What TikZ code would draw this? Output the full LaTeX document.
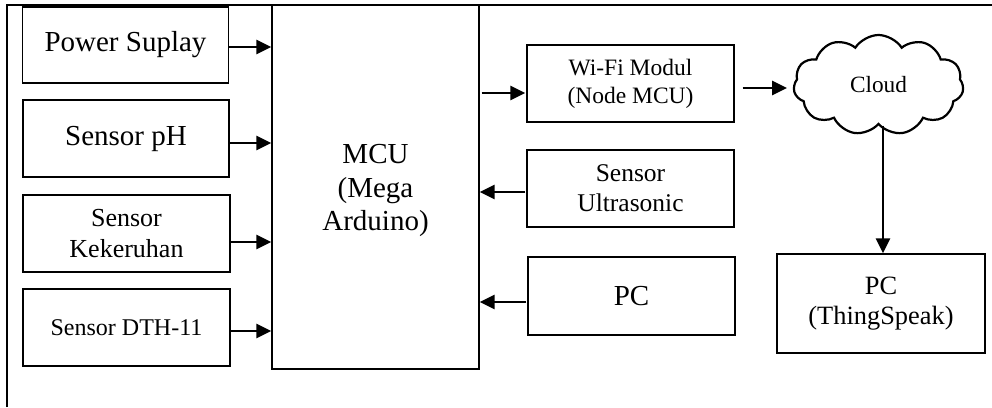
\documentclass[tikz,border=0pt]{standalone}
\usepackage{fontspec}
\setmainfont{Liberation Serif}
\usetikzlibrary{arrows.meta,shapes.symbols}
\tikzset{
  blk/.style={draw, line width=1.3pt, rectangle, inner sep=0pt, align=center},
  arr/.style={line width=2.6pt, -{Triangle[length=15pt,width=14pt]}},
  frm/.style={line width=2.6pt},
}
\newcommand{\fs}[1]{\fontsize{#1}{1.15\dimexpr #1pt\relax}\selectfont}
\begin{document}
\begin{tikzpicture}[x=1pt,y=-1pt]
\useasboundingbox (0,0) rectangle (992,407);
% frame
\coordinate (ftl) at (7,5);
\coordinate (ftr) at (992,5);
\coordinate (fbl) at (7,407);
\draw[frm] (fbl) -- (ftl) -- (ftr);
% left boxes
\node[blk, minimum width=206pt, minimum height=76pt, font=\fs{29}] (ps) at (125.5,45) {Power Suplay};
\node[blk, minimum width=206pt, minimum height=77pt, font=\fs{29}] (ph) at (126,138.5) {Sensor pH};
\node[blk, minimum width=207pt, minimum height=77pt, font=\fontsize{26}{31}\selectfont] (kek) at (126.5,233.5) {Sensor\\Kekeruhan};
\node[blk, minimum width=207pt, minimum height=77pt, font=\fs{24}] (dth) at (126.5,327.5) {Sensor DTH-11};
% MCU
\node[blk, minimum width=207pt, minimum height=364pt] (mcu) at (375.5,187) {};
\node[align=center, inner sep=0pt, font=\fontsize{29}{33.5}\selectfont] (mcut) at (375.5,190.5) {MCU\\(Mega\\Arduino)};
% right boxes
\node[blk, minimum width=207pt, minimum height=77pt, font=\fontsize{23.5}{28}\selectfont] (wifi) at (630.5,83.5) {Wi-Fi Modul\\(Node MCU)};
\node[blk, minimum width=207pt, minimum height=77pt, font=\fontsize{25.5}{30}\selectfont] (ultra) at (630.5,188.5) {Sensor\\Ultrasonic};
\node[blk, minimum width=207pt, minimum height=78pt, font=\fs{29}] (pc) at (631.5,296) {PC};
\node[draw, line width=2.2pt, cloud, cloud puffs=11, cloud puff arc=115, aspect=1.66,
      minimum width=170pt, minimum height=100pt, inner sep=0pt, font=\fs{23.3}] (cloud) at (878.5,85) {Cloud};
\node[blk, minimum width=208pt, minimum height=99pt, font=\fontsize{26.4}{30}\selectfont] (ts) at (881,303.5) {PC\\(ThingSpeak)};
% arrows into MCU
\draw[arr] ([yshift=-2pt]ps.east) -- ([yshift=-2pt]ps.east -| mcu.west);
\draw[arr] ([yshift=-4.5pt]ph.east) -- ([yshift=-4.5pt]ph.east -| mcu.west);
\draw[arr] ([yshift=-8.5pt]kek.east) -- ([yshift=-8.5pt]kek.east -| mcu.west);
\draw[arr] ([yshift=-3.5pt]dth.east) -- ([yshift=-3.5pt]dth.east -| mcu.west);
% MCU to wifi
\draw[arr] ([yshift=-9.5pt,xshift=2pt]wifi.west -| mcu.east) -- ([yshift=-9.5pt,xshift=-1pt]wifi.west);
% into MCU from right
\draw[arr] ([yshift=-3.5pt,xshift=-1pt]ultra.west) -- ([yshift=-3.5pt]ultra.west -| mcu.east);
\draw[arr] ([yshift=-6pt,xshift=-1pt]pc.west) -- ([yshift=-6pt]pc.west -| mcu.east);
% wifi to cloud
\draw[arr] ([yshift=-4.5pt,xshift=8pt]wifi.east) -- ([yshift=-4.5pt,xshift=-6pt]wifi.east -| cloud.west);
% cloud to thingspeak
\draw[arr] (cloud.south -| ts.north) ++(2pt,0) -- ([xshift=2pt]ts.north);
\end{tikzpicture}
\end{document}
